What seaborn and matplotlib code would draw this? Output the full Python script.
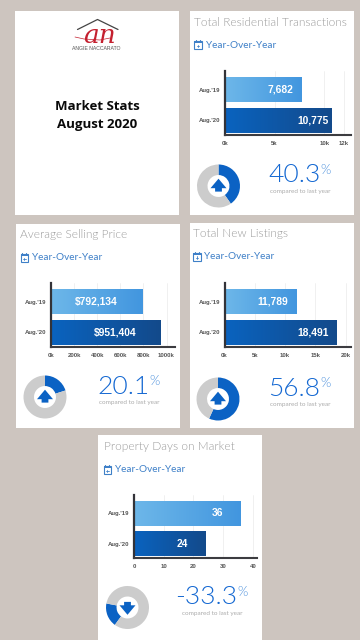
import numpy as np
import pandas as pd
import matplotlib
matplotlib.use("Agg")
import matplotlib.pyplot as plt
from matplotlib.patches import Rectangle, Polygon
import matplotlib.colors as mcolors
import seaborn as sns

sns.set_theme(style="white")

# ---- data ----
periods = ["Aug.'19", "Aug.'20"]
transactions = [7682, 10775]
selling_price = [792134, 951404]
new_listings = [11789, 18491]
days_on_market = [36, 24]
transactions_labels = ["7,682", "10,775"]
price_labels = ["$792,134", "$951,404"]
listings_labels = ["11,789", "18,491"]
days_labels = ["36", "24"]
transactions_ticks = [0, 5000, 10000, 12000]
price_ticks = [0, 200000, 400000, 600000, 800000, 1000000]
listings_ticks = [0, 5000, 10000, 15000, 20000]
days_ticks = [0, 10, 20, 30, 40]
transactions_ticklabels = ["0k", "5k", "10k", "12k"]
price_ticklabels = ["0k", "200k", "400k", "600k", "800k", "1000k"]
listings_ticklabels = ["0k", "5k", "10k", "15k", "20k"]
days_ticklabels = ["0", "10", "20", "30", "40"]
titles = ["Total Residential Transactions", "Average Selling Price",
          "Total New Listings", "Property Days on Market"]
pct_texts = ["40.3", "20.1", "56.8", "-33.3"]
donut_shares = [40.3, 20.1, 56.8, 18.0]

# ---- style ----
W, H = 360, 640
BG = "#CDC5BF"
TITLE_FONT = "Lato"
BLUE = "#0B62C4"
light_grad = ["#6DB7E9", "#4296DF"]
dark_grad = ["#0A63BF", "#134A8B"]

fig = plt.figure(figsize=(W / 100, H / 100), dpi=100, facecolor=BG)


def px_axes(l, t, r, b, **kw):
    return fig.add_axes([l / W, 1 - b / H, (r - l) / W, (b - t) / H], **kw)


bg = px_axes(0, 0, W, H, zorder=0)
bg.set_xlim(0, W); bg.set_ylim(H, 0); bg.axis("off")
fg = px_axes(0, 0, W, H, zorder=10)
fg.set_xlim(0, W); fg.set_ylim(H, 0); fg.axis("off"); fg.patch.set_alpha(0)

for (l, t, r, b) in [(15, 11, 179, 215), (190, 11, 354, 215), (16, 224, 180, 428),
                     (190, 223, 354, 428), (98, 435, 262, 640)]:
    bg.add_patch(Rectangle((l, t), r - l, b - t, color="white", lw=0))


def bar_chart(values, labels, ticks, ticklabels, xmax, box, fracs):
    l, t, r, b = box
    ax = px_axes(l, t, r, b, zorder=5)
    df = pd.DataFrame({"period": periods, "value": values})
    sns.barplot(data=df, y="period", x="value", orient="h", ax=ax, width=0.81,
                color="#4296DF", saturation=1)
    ax.set_xlabel(""); ax.set_ylabel("")
    ax.set_xticks(ticks)
    ax.set_xticklabels(ticklabels)
    ax.xaxis.grid(True, color="#EEEEEE", lw=0.6)
    ax.set_axisbelow(True)
    ax.tick_params(axis="both", length=0, labelsize=4.3, labelcolor="#555555")
    ax.tick_params(axis="x", pad=4.5)
    ax.tick_params(axis="y", pad=3)
    for lab in ax.get_xticklabels() + ax.get_yticklabels():
        lab.set_fontfamily("Liberation Sans")
        lab.set_fontweight("bold")
    for s in ["top", "right"]:
        ax.spines[s].set_visible(False)
    ax.spines["left"].set_linewidth(1.6)
    ax.spines["left"].set_color("#333338")
    ax.spines["bottom"].set_linewidth(1.5)
    ax.spines["bottom"].set_color("#3C3C40")
    for i, patch in enumerate(ax.patches[:2]):
        patch.set_edgecolor("none")
        x0, y0, w, h = patch.get_x(), patch.get_y(), patch.get_width(), patch.get_height()
        cmap = mcolors.LinearSegmentedColormap.from_list("g", light_grad if i == 0 else dark_grad)
        im = ax.imshow(np.linspace(0, 1, 64)[None, :], cmap=cmap, aspect="auto",
                       extent=(x0, x0 + w, y0 + h, y0), zorder=2.5)
        im.set_clip_path(patch)
        ax.text(values[i] * fracs[i], i, labels[i], color="white", ha="center", va="center",
                fontsize=7.4, fontweight="bold", family="Liberation Sans", zorder=4)
    ax.set_xlim(0, xmax)
    ax.set_ylim(1.47, -0.6)
    ax.patch.set_alpha(0)
    return ax


def calendar(x, y):
    c = "#3F80C8"
    fg.add_patch(Rectangle((x, y - 3.6), 7.6, 7.6, fill=False, ec=c, lw=0.8))
    fg.add_patch(Rectangle((x, y - 3.6), 7.6, 2, color=c, lw=0))
    fg.plot([x + 1.8, x + 1.8], [y - 5, y - 3], color=c, lw=0.8)
    fg.plot([x + 5.8, x + 5.8], [y - 5, y - 3], color=c, lw=0.8)
    fg.plot([x + 2.6, x + 5], [y + 1, y + 1], color=c, lw=0.6)
    fg.plot([x + 3.8, x + 3.8], [y - 0.2, y + 2.2], color=c, lw=0.6)


def donut(cx, cy, r, share, startangle, up=True):
    ax = px_axes(cx - r, cy - r, cx + r, cy + r, zorder=5)
    ax.pie([share, 100 - share], colors=[BLUE, "#CCCCCC"], startangle=startangle,
           counterclock=False, radius=1, wedgeprops={"width": 0.49, "lw": 0})
    ax.set_xlim(-1, 1); ax.set_ylim(-1, 1)
    s = -1 if up else 1
    pts = [(0, 7.3), (8, -2.2), (3.4, -2.2), (3.4, -5.6), (-3.4, -5.6), (-3.4, -2.2), (-8, -2.2)]
    fg.add_patch(Polygon([(cx + a, cy + s * b) for a, b in pts], closed=True, color=BLUE, lw=0))


def panel(x0, y0, title, pct, pct_x, pct_y, share, start, dcx, dcy, up=True):
    fg.text(x0, y0, title, fontsize=8.6, color="#9C9C9C", family=TITLE_FONT, weight=300,
            va="center", ha="left")
    calendar(x0, y0 + 23)
    fg.text(x0 + 11.5, y0 + 23, "Year-Over-Year", fontsize=7.2, color="#3F80C8", family=TITLE_FONT,
            va="center", ha="left")
    donut(dcx, dcy, 21.5, share, start, up)
    t = fg.text(pct_x, pct_y, pct, fontsize=19, color="#1468D2", family=TITLE_FONT,
                weight=300, va="center", ha="left")
    fig.canvas.draw()
    right = t.get_window_extent().x1
    fg.text(right + 0.5, pct_y - 6, "%", fontsize=9.5, color="#4A8FDC", family=TITLE_FONT,
            weight=300, va="center", ha="left")
    fg.text(pct_x + (right - pct_x) / 2 + 6, pct_y + 15.5, "compared to last year", fontsize=4.6,
            color="#ABABAB", family=TITLE_FONT, va="center", ha="center")


# panels
bar_chart(transactions, transactions_labels, transactions_ticks, transactions_ticklabels,
          12700, (225, 71, 351, 135), [0.73, 0.82])
bar_chart(selling_price, price_labels, price_ticks, price_ticklabels,
          1073000, (51, 283, 175, 347), [0.49, 0.58])
bar_chart(new_listings, listings_labels, listings_ticks, listings_ticklabels,
          20900, (224.5, 283, 351, 347), [0.68, 0.79])
bar_chart(days_on_market, days_labels, days_ticks, days_ticklabels,
          41.4, (134, 495, 257, 558), [0.78, 0.68])

panel(194, 22, titles[0], pct_texts[0], 268, 175.5, donut_shares[0], 90, 218.5, 186)
panel(20.5, 235, titles[1], pct_texts[1], 97, 387, donut_shares[1], 90, 45, 397)
panel(193, 233.5, titles[2], pct_texts[2], 268, 389, donut_shares[2], 90, 218, 399)
panel(103.5, 447, titles[3], pct_texts[3], 175, 597.5, donut_shares[3], -126, 127.5, 607.5, up=False)

# title card
fg.text(97, 106.5, "Market Stats", fontsize=9.5, weight="bold", family="Open Sans", color="#0A0A0A",
        ha="center", va="center")
fg.text(97, 124.5, "August 2020", fontsize=9.5, weight="bold", family="Open Sans", color="#0A0A0A",
        ha="center", va="center")
fg.plot([77.5, 97.5, 118], [29.5, 19.5, 29.5], color="#444444", lw=0.9)
fg.text(99, 43, "an", fontsize=19, style="italic", family="DejaVu Serif", color="#C4202F",
        ha="center", va="baseline")
fg.plot([75, 84, 100, 110], [37, 39, 40, 38], color="#C4202F", lw=0.5)
fg.text(96.5, 48.5, "ANGIE NACCARATO", fontsize=3.7, family="Liberation Sans", color="#555555",
        ha="center", va="center")

fig.savefig("out.png", dpi=100, facecolor=BG)
